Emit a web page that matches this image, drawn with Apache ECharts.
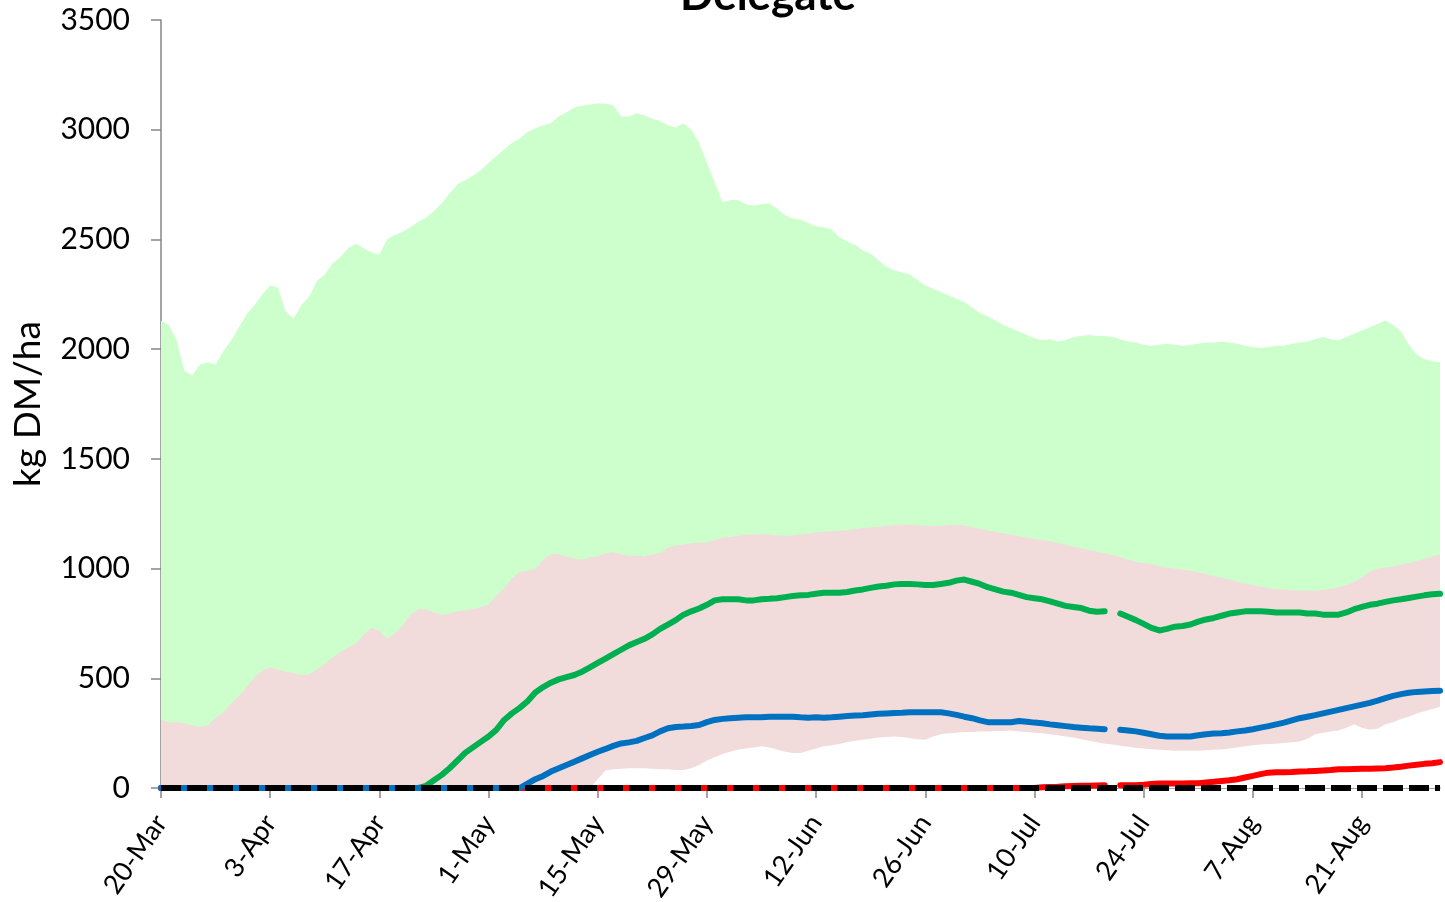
<!DOCTYPE html>
<html>
<head>
<meta charset="utf-8">
<title>Delegate</title>
<script src="https://cdn.jsdelivr.net/npm/echarts@6/dist/echarts.min.js"></script>
<style>
  html, body { margin: 0; padding: 0; background: #fff; }
  #chart { width: 1445px; height: 902px; }
</style>
</head>
<body>
<div id="chart"></div>
<script>
// daily values from 20-Mar to 31-Aug (165 days)
const startDate = new Date(2019, 2, 20);
const monthNames = ["Jan", "Feb", "Mar", "Apr", "May", "Jun", "Jul", "Aug", "Sep", "Oct", "Nov", "Dec"];

const tickLabels = ["20-Mar", "3-Apr", "17-Apr", "1-May", "15-May", "29-May",
  "12-Jun", "26-Jun", "10-Jul", "24-Jul", "7-Aug", "21-Aug"];

// top of green band
const bandMax = [
  2130, 2110, 2040, 1900, 1880, 1930, 1940, 1930, 1990, 2040,
  2100, 2160, 2200, 2250, 2290, 2280, 2170, 2140, 2200, 2240,
  2310, 2340, 2390, 2420, 2460, 2480, 2460, 2440, 2430, 2500,
  2520, 2535, 2555, 2580, 2600, 2630, 2665, 2710, 2750, 2770,
  2790, 2815, 2850, 2880, 2910, 2940, 2960, 2990, 3005, 3020,
  3030, 3060, 3080, 3100, 3110, 3115, 3120, 3120, 3110, 3060,
  3060, 3075, 3065, 3050, 3040, 3020, 3010, 3030, 3000, 2940,
  2850, 2760, 2670, 2680, 2680, 2660, 2655, 2660, 2665, 2640,
  2610, 2595, 2590, 2575, 2560, 2555, 2545, 2510, 2490, 2475,
  2450, 2435, 2405, 2375, 2360, 2350, 2340, 2315, 2290, 2275,
  2260, 2245, 2230, 2215, 2190, 2165, 2150, 2130, 2110, 2095,
  2080, 2065, 2050, 2040, 2045, 2035, 2040, 2055, 2060, 2065,
  2060, 2060, 2055, 2045, 2035, 2030, 2020, 2015, 2020, 2025,
  2020, 2015, 2020, 2025, 2030, 2030, 2035, 2030, 2025, 2015,
  2010, 2005, 2010, 2015, 2015, 2025, 2030, 2035, 2045, 2055,
  2045, 2040, 2055, 2070, 2085, 2100, 2115, 2130, 2110, 2080,
  2020, 1975, 1955, 1945, 1940
];

// top of pink band
const bandUpper = [
  310, 300, 300, 295, 285, 278, 285, 320, 345, 385,
  420, 460, 505, 535, 550, 540, 530, 525, 515, 520,
  540, 565, 595, 620, 640, 660, 700, 730, 715, 680,
  705, 740, 790, 815, 815, 800, 790, 795, 805, 810,
  815, 825, 835, 875, 910, 955, 985, 990, 1000, 1040,
  1065, 1065, 1055, 1045, 1040, 1050, 1055, 1070, 1075, 1065,
  1060, 1058, 1055, 1065, 1070, 1095, 1105, 1110, 1115, 1118,
  1120, 1130, 1140, 1145, 1150, 1155, 1155, 1158, 1155, 1152,
  1150, 1152, 1155, 1160, 1165, 1168, 1170, 1172, 1175, 1180,
  1185, 1188, 1190, 1195, 1198, 1200, 1200, 1198, 1195, 1193,
  1195, 1198, 1200, 1195, 1190, 1180, 1175, 1168, 1160, 1155,
  1148, 1140, 1135, 1130, 1125, 1118, 1108, 1100, 1092, 1085,
  1078, 1070, 1062, 1052, 1040, 1030, 1025, 1020, 1012, 1005,
  1000, 995, 990, 982, 975, 965, 958, 950, 940, 932,
  925, 918, 910, 906, 903, 901, 900, 900, 900, 902,
  908, 915, 925, 940, 960, 985, 1000, 1005, 1010, 1018,
  1025, 1035, 1045, 1055, 1065
];

// bottom of pink band
const bandLower = [
  0, 0, 0, 0, 0, 0, 0, 0, 0, 0,
  0, 0, 0, 0, 0, 0, 0, 0, 0, 0,
  0, 0, 0, 0, 0, 0, 0, 0, 0, 0,
  0, 0, 0, 0, 0, 0, 0, 0, 0, 0,
  0, 0, 0, 0, 0, 0, 0, 0, 0, 0,
  0, 0, 0, 0, 0, 0, 40, 80, 85, 88,
  90, 90, 90, 88, 85, 85, 82, 82, 90, 105,
  125, 140, 155, 165, 175, 180, 185, 190, 185, 175,
  165, 160, 160, 170, 180, 190, 195, 200, 210, 215,
  220, 225, 230, 232, 235, 232, 228, 222, 220, 235,
  245, 250, 252, 255, 255, 258, 258, 260, 260, 262,
  258, 255, 252, 250, 245, 240, 235, 230, 222, 215,
  208, 202, 198, 192, 188, 184, 180, 177, 174, 172,
  170, 170, 170, 170, 172, 174, 176, 180, 185, 190,
  195, 198, 200, 202, 205, 208, 212, 225, 245, 252,
  258, 262, 275, 290, 275, 265, 270, 290, 300, 315,
  325, 340, 350, 360, 370
];

const greenSeries = [
  0, 0, 0, 0, 0, 0, 0, 0, 0, 0,
  0, 0, 0, 0, 0, 0, 0, 0, 0, 0,
  0, 0, 0, 0, 0, 0, 0, 0, 0, 0,
  0, 0, 0, 0, 10, 35, 60, 90, 125, 160,
  185, 210, 235, 265, 310, 340, 365, 395, 435, 460,
  480, 495, 505, 515, 530, 550, 570, 590, 610, 630,
  650, 665, 680, 700, 725, 745, 765, 790, 805, 818,
  835, 855, 860, 860, 860, 855, 855, 860, 862, 865,
  870, 875, 878, 880, 885, 890, 890, 890, 893, 900,
  905, 912, 918, 922, 928, 930, 930, 928, 925, 925,
  930, 935, 945, 950, 940, 930, 915, 905, 895, 890,
  880, 870, 865, 860, 850, 840, 830, 825, 820, 808,
  803, 805, null, 795, 780, 765, 748, 730, 718, 725,
  735, 738, 745, 758, 768, 775, 785, 795, 800, 805,
  805, 805, 803, 800, 800, 800, 800, 795, 795, 790,
  790, 790, 800, 815, 825, 835, 840, 848, 855, 860,
  866, 872, 878, 883, 885
];

const blueSeries = [
  0, 0, 0, 0, 0, 0, 0, 0, 0, 0,
  0, 0, 0, 0, 0, 0, 0, 0, 0, 0,
  0, 0, 0, 0, 0, 0, 0, 0, 0, 0,
  0, 0, 0, 0, 0, 0, 0, 0, 0, 0,
  0, 0, 0, 0, 0, 0, 0, 20, 40, 55,
  75, 90, 105, 120, 135, 150, 165, 178, 192, 203,
  208, 215, 228, 240, 258, 272, 278, 280, 283, 287,
  300, 310, 315, 318, 320, 322, 322, 322, 325, 325,
  325, 325, 322, 320, 322, 320, 322, 325, 328, 330,
  332, 335, 338, 340, 342, 343, 345, 345, 345, 345,
  345, 340, 333, 325, 318, 308, 300, 300, 300, 300,
  305, 302, 298, 295, 290, 286, 282, 278, 275, 272,
  270, 268, null, 265, 262, 258, 252, 245, 238, 235,
  235, 235, 235, 240, 245, 248, 250, 253, 258, 262,
  268, 275, 282, 290, 298, 308, 318, 325, 332, 340,
  348, 356, 364, 372, 380, 388, 398, 410, 420, 428,
  434, 438, 440, 442, 443
];

const redSeries = [
  0, 0, 0, 0, 0, 0, 0, 0, 0, 0,
  0, 0, 0, 0, 0, 0, 0, 0, 0, 0,
  0, 0, 0, 0, 0, 0, 0, 0, 0, 0,
  0, 0, 0, 0, 0, 0, 0, 0, 0, 0,
  0, 0, 0, 0, 0, 0, 0, 0, 0, 0,
  0, 0, 0, 0, 0, 0, 0, 0, 0, 0,
  0, 0, 0, 0, 0, 0, 0, 0, 0, 0,
  0, 0, 0, 0, 0, 0, 0, 0, 0, 0,
  0, 0, 0, 0, 0, 0, 0, 0, 0, 0,
  0, 0, 0, 0, 0, 0, 0, 0, 0, 0,
  0, 0, 0, 0, 0, 0, 0, 0, 0, 0,
  0, 0, 0, 3, 5, 6, 8, 9, 10, 10,
  11, 12, null, 12, 12, 13, 15, 18, 20, 20,
  20, 20, 22, 22, 25, 28, 32, 35, 40, 48,
  55, 63, 70, 72, 72, 73, 75, 76, 78, 80,
  82, 85, 86, 87, 88, 88, 89, 90, 93, 97,
  102, 106, 110, 113, 118
];

const categories = bandMax.map((v, i) => {
  const d = new Date(startDate.getFullYear(), startDate.getMonth(), startDate.getDate() + i);
  return d.getDate() + "-" + monthNames[d.getMonth()];
});

const font = "Lato, 'Open Sans', sans-serif";
const axisGray = "#868686";

const chart = echarts.init(document.getElementById("chart"));

const bandSeries = (name, data, color) => ({
  name: name,
  type: "line",
  data: data,
  symbol: "none",
  silent: true,
  lineStyle: { width: 0 },
  areaStyle: { color: color, opacity: 1, origin: "start" },
  z: 1,
});

const lineSeries = (name, data, color) => ({
  name: name,
  type: "line",
  data: data,
  symbol: "none",
  lineStyle: { width: 6, color: color, cap: "round", join: "round" },
  z: 2,
});

const option = {
  animation: false,
  title: {
    text: "Delegate",
    left: 763,
    textAlign: "center",
    top: -31,
    textStyle: { fontFamily: font, fontSize: 44, fontWeight: "bold", color: "#000" },
  },
  grid: { left: 161, right: 5, top: 20, bottom: 114, containLabel: false, outerBoundsMode: "none" },
  xAxis: {
    type: "category",
    data: categories,
    boundaryGap: false,
    axisLine: { lineStyle: { color: axisGray, width: 1.5 } },
    axisTick: { interval: 13, length: 10, lineStyle: { color: axisGray, width: 1.5 } },
    axisLabel: {
      interval: (i, v) => tickLabels.indexOf(v) >= 0,
      rotate: 55,
      margin: 30,
      fontFamily: font,
      fontSize: 27,
      color: "#000",
    },
  },
  yAxis: {
    type: "value",
    min: 0,
    max: 3500,
    interval: 500,
    name: "kg DM/ha",
    nameLocation: "middle",
    nameGap: 114,
    nameTextStyle: { fontFamily: font, fontSize: 37, color: "#000" },
    axisLine: { show: true, lineStyle: { color: axisGray, width: 1.5 } },
    axisTick: { show: true, length: 10, lineStyle: { color: axisGray, width: 1.5 } },
    axisLabel: {
      margin: 31,
      fontFamily: font,
      fontSize: 30,
      color: "#000",
      formatter: (v) => String(v),
    },
    splitLine: { show: false },
  },
  series: [
    bandSeries("max", bandMax, "#CCFFCC"),
    bandSeries("upper", bandUpper, "#F2DCDB"),
    bandSeries("lower", bandLower, "#FFFFFF"),
    lineSeries("green", greenSeries, "#00B050"),
    lineSeries("red", redSeries, "#FF0000"),
    Object.assign(lineSeries("blue", blueSeries, "#0070C0"), {
      markLine: {
        silent: true,
        symbol: "none",
        label: { show: false },
        lineStyle: { color: "#000", width: 6, type: [20, 6], cap: "butt" },
        data: [{ yAxis: 0 }],
        z: 5,
      },
    }),
  ],
};

chart.setOption(option);
</script>
</body>
</html>
